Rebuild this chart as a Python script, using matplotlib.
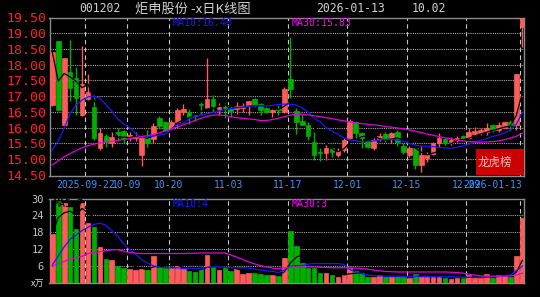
import numpy as np
import pandas as pd
import matplotlib
matplotlib.use('Agg')
import matplotlib.pyplot as plt
from matplotlib.patches import Rectangle

# 日K数据 (index 0 = 2025-09-22)
idx = np.arange(-6, 74)
opens = [16.72, 18.75, 16.09, 17.76, 17.57, 16.40, 16.91, 16.67, 15.37, 15.75,
         15.50, 15.88, 15.90, 15.72, 15.66, 15.14, 15.72, 15.63, 16.31, 16.17,
         15.98, 16.19, 16.49, 16.51, 16.42, 16.75, 16.64, 16.91, 16.60, 16.66,
         16.58, 16.60, 16.62, 16.72, 16.91, 16.74, 16.62, 16.49, 16.58, 16.51,
         17.55, 16.53, 16.21, 16.09, 15.56, 15.24, 15.19, 15.35, 15.14, 15.29,
         15.68, 16.19, 15.82, 15.58, 15.37, 15.64, 15.79, 15.64, 15.85, 15.43,
         15.14, 15.37, 14.82, 15.05, 15.16, 15.51, 15.64, 15.56, 15.61, 15.75,
         15.66, 15.79, 15.82, 15.85, 16.09, 15.93, 16.00, 16.19, 16.09, 19.21]
highs = [18.41, 18.76, 18.22, 18.79, 17.94, 18.61, 17.70, 16.99, 16.00, 15.79,
         15.88, 16.00, 15.93, 15.87, 15.87, 15.72, 15.93, 16.15, 16.38, 16.20,
         16.25, 16.64, 16.74, 16.59, 16.45, 16.81, 18.20, 17.04, 16.80, 16.77,
         16.70, 16.81, 16.78, 16.85, 16.95, 16.78, 16.67, 16.59, 16.72, 17.30,
         18.89, 16.62, 16.45, 16.17, 15.87, 15.37, 15.45, 15.37, 15.35, 15.66,
         16.28, 16.22, 15.85, 15.61, 15.66, 15.82, 15.85, 15.88, 15.93, 15.50,
         15.43, 15.40, 15.43, 15.24, 15.56, 15.82, 15.69, 15.72, 15.75, 15.77,
         15.98, 16.03, 15.98, 16.14, 16.11, 16.19, 16.19, 16.25, 17.71, 19.48]
lows = [16.70, 16.55, 16.08, 16.85, 16.40, 16.38, 16.88, 15.60, 15.29, 15.40,
        15.40, 15.61, 15.50, 15.57, 15.58, 14.80, 15.38, 15.50, 15.97, 15.85,
        15.93, 15.98, 16.40, 16.11, 16.22, 16.40, 16.62, 16.51, 16.40, 16.32,
        16.35, 16.43, 16.51, 16.40, 16.67, 16.42, 16.46, 16.35, 16.40, 16.46,
        16.93, 15.79, 16.09, 15.61, 14.98, 14.93, 14.98, 15.08, 15.08, 15.24,
        15.64, 15.61, 15.37, 15.35, 15.29, 15.58, 15.56, 15.50, 15.43, 15.16,
        15.08, 14.69, 14.58, 14.92, 15.14, 15.40, 15.40, 15.45, 15.56, 15.61,
        15.64, 15.75, 15.77, 15.77, 15.88, 15.88, 15.98, 15.93, 15.93, 18.57]
closes = [18.40, 16.56, 18.21, 17.27, 16.93, 17.38, 17.15, 15.66, 15.82, 15.54,
          15.72, 15.77, 15.66, 15.76, 15.74, 15.68, 15.50, 16.04, 16.05, 15.92,
          16.17, 16.56, 16.59, 16.35, 16.38, 16.73, 16.91, 16.70, 16.67, 16.62,
          16.53, 16.70, 16.70, 16.85, 16.72, 16.56, 16.51, 16.56, 16.56, 17.23,
          17.23, 16.17, 16.09, 15.75, 15.14, 15.21, 15.35, 15.22, 15.26, 15.61,
          16.21, 15.82, 15.68, 15.40, 15.61, 15.75, 15.64, 15.82, 15.56, 15.24,
          15.37, 14.82, 15.14, 15.14, 15.51, 15.66, 15.53, 15.61, 15.69, 15.64,
          15.85, 15.90, 15.93, 15.98, 15.93, 16.09, 16.17, 16.10, 17.71, 19.48]
volumes = [17.5, 29.0, 28.4, 27.2, 19.3, 28.6, 21.3, 19.8, 12.6, 8.5,
           8.0, 5.9, 5.3, 4.9, 4.5, 4.9, 4.5, 9.4, 5.6, 5.3,
           5.3, 5.9, 4.9, 4.1, 3.7, 4.7, 9.7, 6.1, 4.5, 5.3,
           4.1, 4.7, 2.9, 3.3, 3.3, 2.9, 2.7, 2.6, 2.3, 8.8,
           18.5, 13.2, 7.1, 5.3, 5.3, 3.5, 3.3, 2.6, 2.0, 2.7,
           5.3, 4.1, 3.5, 2.1, 2.1, 2.6, 2.1, 2.0, 2.3, 2.1,
           1.8, 2.9, 2.1, 2.1, 2.1, 2.1, 1.8, 1.4, 1.8, 1.8,
           2.6, 1.8, 1.8, 2.9, 1.8, 2.6, 2.6, 2.1, 9.4, 23.0]

# 均线
ma10 = [15.30, 15.58, 15.98, 16.45, 16.72, 16.88, 16.98, 17.01, 16.93, 16.74,
        16.53, 16.28, 16.12, 16.00, 15.82, 15.69, 15.71, 15.74, 15.77, 15.80,
        15.96, 16.10, 16.14, 16.28, 16.35, 16.40, 16.44, 16.48, 16.53, 16.57,
        16.61, 16.63, 16.65, 16.68, 16.69, 16.69, 16.69, 16.71, 16.74, 16.75,
        16.75, 16.72, 16.63, 16.49, 16.30, 16.19, 16.00, 15.90, 15.79, 15.68,
        15.61, 15.58, 15.56, 15.56, 15.58, 15.61, 15.63, 15.63, 15.61, 15.57,
        15.50, 15.45, 15.42, 15.41, 15.40, 15.38, 15.36, 15.35, 15.38, 15.42,
        15.48, 15.54, 15.60, 15.66, 15.72, 15.77, 15.84, 15.92, 16.12, 16.48]
ma30 = [14.82, 14.95, 15.08, 15.18, 15.28, 15.36, 15.43, 15.48, 15.52, 15.55,
        15.57, 15.60, 15.63, 15.65, 15.69, 15.72, 15.75, 15.79, 15.84, 15.90,
        15.96, 16.02, 16.09, 16.16, 16.23, 16.30, 16.36, 16.40, 16.41, 16.39,
        16.35, 16.32, 16.30, 16.28, 16.26, 16.23, 16.23, 16.26, 16.30, 16.35,
        16.40, 16.43, 16.43, 16.41, 16.38, 16.35, 16.32, 16.29, 16.25, 16.22,
        16.19, 16.16, 16.13, 16.11, 16.09, 16.07, 16.04, 16.02, 15.99, 15.97,
        15.93, 15.89, 15.85, 15.80, 15.76, 15.72, 15.68, 15.65, 15.61, 15.58,
        15.56, 15.55, 15.54, 15.55, 15.56, 15.58, 15.62, 15.67, 15.73, 15.83]
vol_ma10 = [6.3, 9.5, 12.8, 15.5, 17.0, 18.6, 19.8, 20.8, 21.3, 20.5,
            18.5, 16.5, 13.9, 11.8, 10.2, 8.2, 7.0, 6.0, 5.5, 5.3,
            5.3, 5.3, 5.1, 5.0, 4.9, 5.1, 5.4, 5.6, 5.6, 5.5,
            5.3, 5.3, 5.3, 5.2, 4.8, 4.5, 4.2, 4.0, 3.6, 4.5,
            5.9, 6.1, 6.1, 6.6, 6.8, 6.8, 6.8, 6.8, 6.8, 6.5,
            4.7, 3.8, 3.2, 2.7, 2.5, 2.4, 2.3, 2.3, 2.3, 2.2,
            2.1, 2.2, 2.3, 2.2, 2.1, 2.1, 2.1, 2.1, 2.0, 1.9,
            1.9, 1.9, 1.9, 1.9, 2.0, 2.2, 2.4, 2.7, 4.3, 5.9]
vol_ma30 = [5.8, 6.8, 7.6, 8.4, 8.9, 9.4, 10.4, 10.8, 11.0, 11.4,
            11.7, 11.8, 11.2, 10.8, 10.5, 10.4, 10.4, 10.4, 10.4, 10.4,
            10.4, 10.4, 10.4, 10.5, 10.5, 10.6, 10.6, 10.6, 10.6, 10.6,
            9.9, 9.1, 8.3, 7.4, 6.7, 6.1, 5.6, 5.2, 5.0, 5.3,
            5.5, 5.6, 5.6, 5.6, 5.6, 5.5, 5.4, 5.3, 5.3, 5.3,
            5.3, 5.2, 5.0, 4.8, 4.5, 4.2, 4.0, 3.9, 3.8, 3.8,
            3.8, 3.8, 3.8, 3.8, 3.8, 3.8, 3.8, 3.7, 3.6, 3.4,
            3.0, 2.7, 2.4, 2.3, 2.3, 2.3, 2.3, 2.4, 2.7, 3.4]

tick_idx = [0, 7, 14, 24, 34, 44, 54, 64, 73]
tick_labels = ['2025-09-22', '10-09', '10-20', '11-03', '11-17', '12-01', '12-15', '12-29', '2026-01-13']
price_ticks = [14.5, 15.0, 15.5, 16.0, 16.5, 17.0, 17.5, 18.0, 18.5, 19.0, 19.5]
vol_ticks = [6, 12, 18, 24, 30]

RED = '#ff5b5b'
GREEN = '#00b000'
MONO = 'DejaVu Sans Mono'
CJK = ['Noto Sans CJK SC', 'DejaVu Sans']

df = pd.DataFrame({'o': opens, 'h': highs, 'l': lows, 'c': closes, 'v': volumes}, index=idx)
up = df['c'] >= df['o']
colors = np.where(up, RED, GREEN)
ma5 = df['c'].rolling(5, min_periods=1).mean()
vol_ma5 = df['v'].rolling(5, min_periods=1).mean()

fig = plt.figure(figsize=(5.4, 2.97), dpi=100, facecolor='black')
W, H = 540.0, 297.0
ax = fig.add_axes([49.5 / W, 1 - 175.5 / H, 474.5 / W, 158 / H], facecolor='black')
axv = fig.add_axes([49.5 / W, 1 - 282.6 / H, 474.5 / W, 83.9 / H], facecolor='black')

xmin, xmax = -6.47, 73.28
for a in (ax, axv):
    a.set_xlim(xmin, xmax)
    for s in a.spines.values():
        s.set_color('#8c8c8c')
        s.set_linewidth(1.0)
    a.tick_params(length=0)
    a.set_xticks([])
    for t in tick_idx:
        a.axvline(t - 0.45, color='#c8c8c8', lw=0.8, ls=(0, (4, 3)), zorder=1)

# 主图
ax.set_ylim(14.484, 19.5)
for p in price_ticks[1:-1]:
    ax.axhline(p, color='#a8a8a8', lw=0.8, ls=(0, (1, 1)), zorder=1)
ax.set_yticks(price_ticks)
ax.set_yticklabels(['%.2f' % p for p in price_ticks], color='#ff2020',
                   family=MONO, fontsize=9.5)
ax.tick_params(axis='y', pad=2.5)

ax.vlines(df.index, df['l'], df['h'], colors=colors, lw=1.0, zorder=3)
body_h = (df['c'] - df['o']).abs().clip(lower=0.02)
ax.bar(df.index, body_h, bottom=df[['o', 'c']].min(axis=1), width=0.78,
       color=colors, edgecolor=colors, lw=0.5, zorder=4)
ax.plot(idx, ma5, color='black', lw=0.9, zorder=5)
ax.plot(idx, ma10, color='#1a1aff', lw=0.9, zorder=5)
ax.plot(idx, ma30, color='#e000e0', lw=0.9, zorder=5)

ax.text(54, 23, 'MA5:%.2f' % ma5.iloc[-1], transform=None, color='black',
        family=MONO, fontsize=7.1, va='center')
ax.text(0, 0, '')
for xp, s, c in [(173, 'MA10:16.48', '#1a1aff'), (292, 'MA30:15.83', '#ff00ff')]:
    fig.text(xp / W, 1 - 23 / H, s, color=c, family=MONO, fontsize=7.1, va='center')

for t, lab in zip(tick_idx, tick_labels):
    ha = 'center'
    xpos = t - 0.45
    if t == tick_idx[-1]:
        ha = 'right'
        xpos = t - 0.1
    ax.text(xpos, -0.06, lab, transform=ax.get_xaxis_transform(), ha=ha, va='center',
            color='#3a96ff', family=MONO, fontsize=7)

ax.add_patch(Rectangle((0.898, 0.003), 0.102, 0.163, transform=ax.transAxes,
                       facecolor='#cc0000', edgecolor='none', zorder=6))
ax.text(0.938, 0.083, '龙虎榜', transform=ax.transAxes, ha='center', va='center',
        color='#f0c4c4', family=CJK, fontsize=8.3, zorder=7)

# 成交量
axv.set_ylim(0, 29.82)
for v in vol_ticks[:-1]:
    axv.axhline(v, color='#a8a8a8', lw=0.8, ls=(0, (1, 1)), zorder=1)
axv.set_yticks(vol_ticks)
axv.set_yticklabels([str(v) for v in vol_ticks], color='#c0c0c0', family=MONO, fontsize=7.5)
axv.tick_params(axis='y', pad=4)
axv.bar(df.index, df['v'], width=0.78, color=colors, edgecolor=colors, lw=0.5, zorder=3)
axv.plot(idx, vol_ma5, color='black', lw=0.9, zorder=5)
axv.plot(idx, vol_ma10, color='#1a1aff', lw=0.9, zorder=5)
axv.plot(idx, vol_ma30, color='#e000e0', lw=0.9, zorder=5)
fig.text(54 / W, 1 - 204 / H, 'MA5:%d' % vol_ma5.iloc[-1], color='black',
         family=MONO, fontsize=7.1, va='center')
fig.text(173 / W, 1 - 204 / H, 'MA10:4', color='#1a1aff', family=MONO, fontsize=7.1, va='center')
fig.text(292 / W, 1 - 204 / H, 'MA30:3', color='#ff00ff', family=MONO, fontsize=7.1, va='center')
fig.text(44 / W, 1 - 284 / H, 'x万', color='#e0e0e0', family=CJK, fontsize=6.5,
         ha='right', va='center')

# 标题
title_y = 1 - 9 / H
fig.text(79 / W, title_y, '001202', color='#d0d0d0', family=MONO, fontsize=8.3, va='center')
fig.text(135 / W, title_y, '炬申股份 -x日K线图', color='#d0d0d0', family=CJK, fontsize=9.5, va='center')
fig.text(316 / W, title_y, '2026-01-13', color='#d0d0d0', family=MONO, fontsize=8.3, va='center')
fig.text(412 / W, title_y, '10.02', color='#d0d0d0', family=MONO, fontsize=8.3, va='center')

fig.savefig('out.png', dpi=100, facecolor='black')
